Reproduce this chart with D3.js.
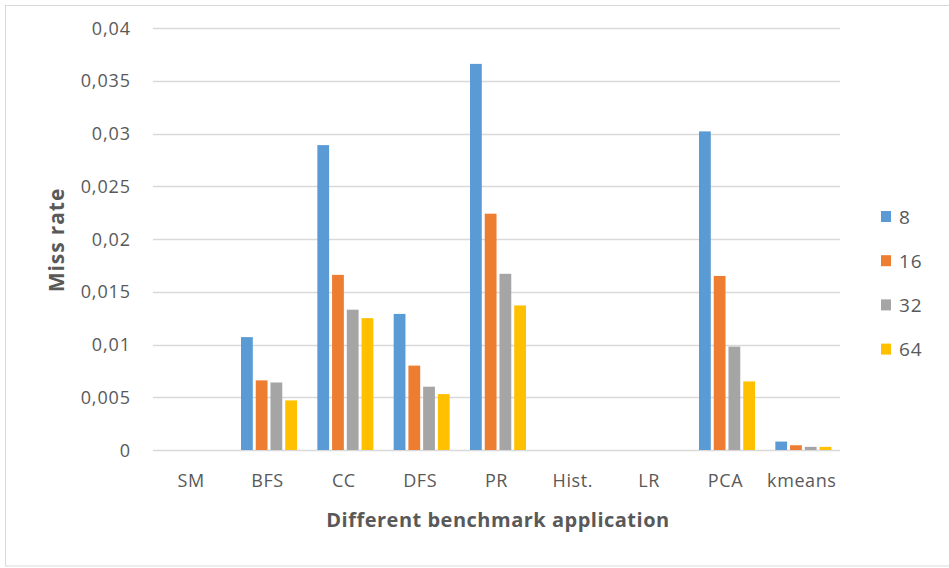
<!DOCTYPE html>
<html><head><meta charset="utf-8">
<script src="https://cdn.jsdelivr.net/npm/d3@7"></script>
<style>
html,body{margin:0;padding:0;background:#fff;}
svg text{font-family:"Open Sans","Liberation Sans",sans-serif;fill:#595959;}
</style></head>
<body><svg id="c" width="949" height="568"></svg>
<script>
const categories = ["SM","BFS","CC","DFS","PR","Hist.","LR","PCA","kmeans"];
const seriesNames = ["8","16","32","64"];
const s8  = [0, 0.0107, 0.0289, 0.0129, 0.0366, 0, 0, 0.0302, 0.0008];
const s16 = [0, 0.0066, 0.0166, 0.0080, 0.0224, 0, 0, 0.0165, 0.00045];
const s32 = [0, 0.0064, 0.0133, 0.0060, 0.0167, 0, 0, 0.0098, 0.0003];
const s64 = [0, 0.0047, 0.0125, 0.0053, 0.0137, 0, 0, 0.0065, 0.0003];
const yTicks = [0,0.005,0.01,0.015,0.02,0.025,0.03,0.035,0.04];
const yTickLabels = ["0","0,005","0,01","0,015","0,02","0,025","0,03","0,035","0,04"];
const colors = ["#5B9BD5","#ED7D31","#A5A5A5","#FFC000"];
const series = [s8,s16,s32,s64];

const svg = d3.select("#c");
svg.append("rect").attr("x",5.5).attr("y",5.5).attr("width",945).attr("height",560.5)
  .attr("fill","#fff").attr("stroke","#D9D9D9").attr("stroke-width",1);

const L=153, R=840, T=28, B=450;
const x0 = d3.scaleBand().domain(categories).range([L,R]).paddingInner(0).paddingOuter(0);
const x1 = d3.scaleBand().domain(seriesNames).range([0,56]).paddingInner(0.2);
const y = d3.scaleLinear().domain([0,0.04]).range([B,T]);

// gridlines
svg.append("g").selectAll("line").data(yTicks).join("line")
  .attr("x1",L).attr("x2",R)
  .attr("y1",d=>Math.round(y(d))+0.5).attr("y2",d=>Math.round(y(d))+0.5)
  .attr("stroke","#D9D9D9").attr("stroke-width",1.3);

// y labels
svg.append("g").selectAll("text").data(yTicks).join("text")
  .attr("x",131).attr("y",d=>y(d)+6.5)
  .attr("text-anchor","end").attr("font-size",18).attr("letter-spacing",0.9)
  .text((d,i)=>yTickLabels[i]);

// bars
const groupW = 56;
const g = svg.append("g");
categories.forEach((c,ci)=>{
  const gx = x0(c) + x0.bandwidth()/2 - groupW/2 + 1.5;
  series.forEach((s,si)=>{
    const v = s[ci];
    if (v<=0) return;
    g.append("rect")
      .attr("x", gx + x1(seriesNames[si]))
      .attr("y", y(v))
      .attr("width", x1.bandwidth())
      .attr("height", y(0)-y(v))
      .attr("fill", colors[si]);
  });
});

// x labels
svg.append("g").selectAll("text").data(categories).join("text")
  .attr("x",d=>x0(d)+x0.bandwidth()/2).attr("y",487)
  .attr("text-anchor","middle").attr("font-size",18).attr("letter-spacing",0.6)
  .text(d=>d);

// axis titles
svg.append("text").attr("x",498).attr("y",527).attr("text-anchor","middle")
  .attr("font-size",20).attr("font-weight","bold").attr("letter-spacing",0.5)
  .text("Different benchmark application");
svg.append("text").attr("transform","translate(64,240) rotate(-90)")
  .attr("text-anchor","middle").attr("font-size",21).attr("font-weight","bold")
  .attr("letter-spacing",0.9)
  .text("Miss rate");

// legend
const lg = svg.append("g");
seriesNames.forEach((n,i)=>{
  const cy = 216.5 + i*44.2;
  lg.append("rect").attr("x",881).attr("y",cy-5.5).attr("width",10).attr("height",11).attr("fill",colors[i]);
  lg.append("text").attr("x",899).attr("y",cy+7).attr("font-size",19).attr("letter-spacing",0.9).text(n);
});
</script></body></html>
